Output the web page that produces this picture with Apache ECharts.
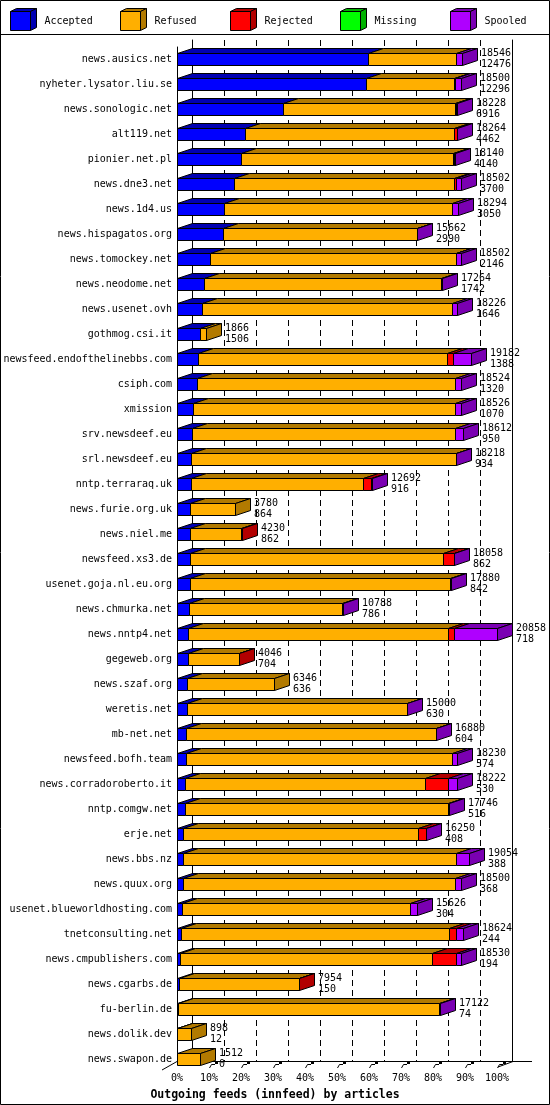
<!DOCTYPE html>
<html><head><meta charset="utf-8">
<script src="https://cdn.jsdelivr.net/npm/echarts/dist/echarts.min.js"></script>
<style>html,body{margin:0;padding:0;background:#fff}#c{width:550px;height:1105px}</style>
</head><body><div id="c"></div><script>
const categories = ['news.ausics.net','nyheter.lysator.liu.se','news.sonologic.net','alt119.net','pionier.net.pl','news.dne3.net','news.1d4.us','news.hispagatos.org','news.tomockey.net','news.neodome.net','news.usenet.ovh','gothmog.csi.it','newsfeed.endofthelinebbs.com','csiph.com','xmission','srv.newsdeef.eu','srl.newsdeef.eu','nntp.terraraq.uk','news.furie.org.uk','news.niel.me','newsfeed.xs3.de','usenet.goja.nl.eu.org','news.chmurka.net','news.nntp4.net','gegeweb.org','news.szaf.org','weretis.net','mb-net.net','newsfeed.bofh.team','news.corradoroberto.it','nntp.comgw.net','erje.net','news.bbs.nz','news.quux.org','usenet.blueworldhosting.com','tnetconsulting.net','news.cmpublishers.com','news.cgarbs.de','fu-berlin.de','news.dolik.dev','news.swapon.de'];
const totals = [18546,18500,18228,18264,18140,18502,18294,15662,18502,17264,18226,1866,19182,18524,18526,18612,18218,12692,3780,4230,18058,17880,10788,20858,4046,6346,15000,16880,18230,18222,17746,16250,19054,18500,15626,18624,18530,7954,17122,898,1512];
const accepted = [12476,12296,6916,4462,4140,3700,3050,2990,2146,1742,1646,1506,1388,1320,1070,950,934,916,864,862,862,842,786,718,704,636,630,604,574,530,516,408,388,368,304,244,194,150,74,12,0];
const refused = [5740,5774,11232,13582,13850,14372,14874,12622,16026,15492,16280,360,16214,16814,17066,17162,17244,11206,2916,3338,16446,16938,9972,16950,3312,5710,14340,16246,17326,15632,17130,15312,17796,17742,14892,17470,16406,7774,17018,886,1512];
const rejected = [0,40,40,180,70,100,0,0,40,0,0,0,390,0,0,0,0,540,0,30,720,0,0,410,30,0,0,0,0,1520,0,500,0,0,0,480,1560,30,0,0,0];
const missing = [0,0,0,0,30,0,0,0,0,0,0,0,0,0,0,0,0,0,0,0,0,0,0,0,0,0,0,0,0,0,0,0,0,0,0,0,0,0,0,0,0];
const spooled = [330,390,40,40,50,330,370,50,290,30,300,0,1190,390,390,500,40,30,0,0,30,100,30,2780,0,0,30,30,330,540,100,30,870,390,430,430,370,0,30,0,0];
const seriesNames = ['Accepted','Refused','Rejected','Missing','Spooled'];
const axisTickLabels = [0,10,20,30,40,50,60,70,80,90,100];
const axisTitle = 'Outgoing feeds (innfeed) by articles';

const FRONT = ['#0000FF','#FFAF00','#FF0000','#00FF00','#AF00FF'];
const DARK  = ['#0000B2','#B27A00','#B20000','#00B200','#7A00B2'];
const FONT = '"DejaVu Sans Mono", monospace';
const DX = 15, DY = 5, BAR_H = 12;

const segs = [accepted, refused, rejected, missing, spooled];
const maxTotal = Math.max.apply(null, totals);
const pct = v => v / maxTotal * 100;

const seriesData = segs.map(() => []);
const labelData = [];
categories.forEach((c, i) => {
  let lastIdx = -1;
  segs.forEach((arr, k) => { if (arr[i] > 0) lastIdx = k; });
  let cum = 0;
  segs.forEach((arr, k) => {
    const v = arr[i];
    if (v > 0) {
      seriesData[k].push([pct(cum), pct(cum + v), i, k === lastIdx ? 1 : 0]);
    }
    cum += v;
  });
  labelData.push([pct(totals[i]), i]);
});

function makeRender(si) {
  return function (params, api) {
    const row = api.value(2);
    const p0 = api.coord([api.value(0), row]);
    const p1 = api.coord([api.value(1), row]);
    const x0 = Math.round(p0[0]) + 0.5, x1 = Math.round(p1[0]) + 0.5;
    const yt = Math.round(p0[1] - BAR_H / 2) + 0.5, yb = yt + BAR_H;
    const st = f => ({ fill: f, stroke: '#000', lineWidth: 1 });
    const children = [
      { type: 'polygon', shape: { points: [[x0, yt], [x0 + DX, yt - DY], [x1 + DX, yt - DY], [x1, yt]] }, style: st(DARK[si]) },
      { type: 'rect', shape: { x: x0, y: yt, width: x1 - x0, height: BAR_H }, style: st(FRONT[si]) }
    ];
    if (api.value(3)) {
      children.push({ type: 'polygon', shape: { points: [[x1, yt], [x1 + DX, yt - DY], [x1 + DX, yb - DY], [x1, yb]] }, style: st(DARK[si]) });
    }
    return { type: 'group', children };
  };
}

const series = seriesNames.map((n, k) => ({
  name: n, type: 'custom', xAxisIndex: 0, yAxisIndex: 0,
  renderItem: makeRender(k), data: seriesData[k],
  encode: { x: [0, 1], y: 2 }, silent: true, animation: false
}));
series.push({
  name: 'labels', type: 'custom', xAxisIndex: 0, yAxisIndex: 0, silent: true, animation: false,
  data: labelData, encode: { x: 0, y: 1 },
  renderItem: function (params, api) {
    const row = api.value(1);
    const p = api.coord([api.value(0), row]);
    const x = Math.round(p[0]) + DX + 4;
    const ts = (y, t) => ({ type: 'text', style: { x: x, y: y, text: t, fill: '#000', fontSize: 10, fontFamily: FONT, verticalAlign: 'middle', align: 'left' } });
    return { type: 'group', children: [ts(p[1] - 6, String(totals[row])), ts(p[1] + 5, String(accepted[row]))] };
  }
});
// 3D floor tick marks, positioned through the x axis scale
series.push({
  name: 'floorTicks', type: 'custom', xAxisIndex: 0, yAxisIndex: 0, silent: true, animation: false,
  data: axisTickLabels.slice(1).map(v => [v, categories.length - 1]), encode: { x: 0, y: 1 },
  renderItem: function (params, api) {
    const p = api.coord([api.value(0), api.value(1)]);
    const x = Math.round(p[0]);
    return { type: 'group', children: [
      { type: 'polyline', shape: { points: [[x + 0.5, 1068], [x + 2.5, 1064.5], [x + 6, 1064.5]] }, style: { stroke: '#000', lineWidth: 1, fill: 'none' } },
      { type: 'rect', shape: { x: x + 6, y: 1061, width: 3, height: 3 }, style: { fill: '#000' } }
    ]};
  }
});

const graphics = [
  { type: 'rect', shape: { x: 0.5, y: 0.5, width: 549, height: 1104 }, style: { fill: 'none', stroke: '#000', lineWidth: 1 }, z: 100 },
  { type: 'line', shape: { x1: 0, y1: 34.5, x2: 550, y2: 34.5 }, style: { stroke: '#000', lineWidth: 1 } },
  { type: 'line', shape: { x1: 177, y1: 1061.5, x2: 532, y2: 1061.5 }, style: { stroke: '#000', lineWidth: 1 }, z: -1 },
  { type: 'line', shape: { x1: 162, y1: 1070, x2: 177, y2: 1061.5 }, style: { stroke: '#000', lineWidth: 1 }, z: -1 },
  { type: 'line', shape: { x1: 498, y1: 1067, x2: 513, y2: 1061.5 }, style: { stroke: '#000', lineWidth: 1 }, z: -1 }
];
seriesNames.forEach((n, i) => {
  const fx = 10.5 + 110 * i;
  const st = f => ({ fill: f, stroke: '#000', lineWidth: 1 });
  graphics.push({ type: 'group', children: [
    { type: 'polygon', shape: { points: [[fx, 11.5], [fx + 6, 8.5], [fx + 26, 8.5], [fx + 20, 11.5]] }, style: st(DARK[i]) },
    { type: 'polygon', shape: { points: [[fx + 20, 11.5], [fx + 26, 8.5], [fx + 26, 27.5], [fx + 20, 30.5]] }, style: st(DARK[i]) },
    { type: 'rect', shape: { x: fx, y: 11.5, width: 20, height: 19 }, style: st(FRONT[i]) },
    { type: 'text', style: { x: fx + 34, y: 21, text: n, fill: '#000', fontSize: 10, fontFamily: FONT, verticalAlign: 'middle' } }
  ]});
});

const chart = echarts.init(document.getElementById('c'), null, { renderer: 'canvas' });
chart.setOption({
  animation: false,
  backgroundColor: '#fff',
  title: { text: axisTitle, left: 'center', top: 1084, textStyle: { fontFamily: FONT, fontSize: 11.5, fontWeight: 'bold', color: '#000' } },
  grid: [
    { left: 177, width: 320, top: 46.5, height: 1025 },
    { left: 192, width: 320, top: 40, height: 1021 },
    { left: 177, width: 320, top: 47, height: 1014 }
  ],
  xAxis: [
    { gridIndex: 0, type: 'value', min: axisTickLabels[0], max: axisTickLabels[axisTickLabels.length - 1], interval: 10,
      axisLine: { show: false }, axisTick: { show: false }, splitLine: { show: false },
      axisLabel: { formatter: '{value}%', margin: 2, fontFamily: FONT, fontSize: 10, color: '#000' } },
    { gridIndex: 1, type: 'value', min: 0, max: 100, interval: 10,
      axisLine: { show: false }, axisTick: { show: false }, axisLabel: { show: false },
      splitLine: { show: true, lineStyle: { color: '#000', width: 1, type: [6, 4] } } },
    { gridIndex: 2, type: 'value', min: 0, max: 1, show: false }
  ],
  yAxis: [
    { gridIndex: 0, type: 'category', data: categories, inverse: true,
      axisLine: { show: false }, axisTick: { show: false }, splitLine: { show: false },
      axisLabel: { margin: 5, fontFamily: FONT, fontSize: 10, color: '#000' } },
    { gridIndex: 1, type: 'value', min: 0, max: 1, position: 'left',
      axisLine: { show: true, onZero: false, lineStyle: { color: '#000', width: 1 } }, axisTick: { show: false }, axisLabel: { show: false }, splitLine: { show: false } },
    { gridIndex: 1, type: 'value', min: 0, max: 1, position: 'right',
      axisLine: { show: true, onZero: false, lineStyle: { color: '#000', width: 1 } }, axisTick: { show: false }, axisLabel: { show: false }, splitLine: { show: false } },
    { gridIndex: 2, type: 'value', min: 0, max: 1, position: 'left',
      axisLine: { show: true, onZero: false, lineStyle: { color: '#000', width: 1 } }, axisTick: { show: false }, axisLabel: { show: false }, splitLine: { show: false } }
  ],
  graphic: graphics,
  series: series
});
</script></body></html>
